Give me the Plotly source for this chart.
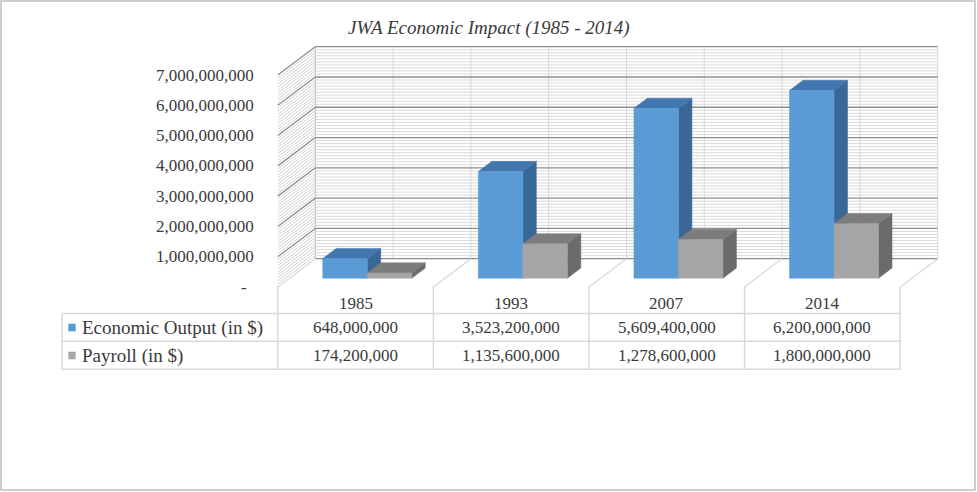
import plotly.graph_objects as go

years = ["1985", "1993", "2007", "2014"]
economic_output = [648000000, 3523200000, 5609400000, 6200000000]
payroll = [174200000, 1135600000, 1278600000, 1800000000]
series_names = ["Economic Output (in $)", "Payroll (in $)"]
y_ticks = [0, 1000000000, 2000000000, 3000000000, 4000000000, 5000000000, 6000000000, 7000000000]
y_tick_labels = ["-", "1,000,000,000", "2,000,000,000", "3,000,000,000", "4,000,000,000",
                 "5,000,000,000", "6,000,000,000", "7,000,000,000"]
minor_step = 100000000

W, H = 977, 492
FONT = "Liberation Serif"
TXT = "#3A3A3A"

# where the back wall sits on the page (pixels)
WALL_LEFT, WALL_RIGHT = 315.3, 937.7
WALL_BOTTOM, WALL_TOP = 258.7, 46.7
cat_px = (WALL_RIGHT - WALL_LEFT) / len(years)
val_px = (WALL_BOTTOM - WALL_TOP) / y_ticks[-1]

# depth vector from the back wall to the front edge of the floor
DEPTH_X = -37.5 / cat_px
DEPTH_Y = -28.3 / val_px
BAR_FRONT, BAR_BACK = 0.69, 0.33
BAR_W = 44.5 / cat_px

colors = {
    "blue": dict(front="#5B9BD5", top="#4276AE", side="#3A6896"),
    "gray": dict(front="#A5A5A5", top="#7C7C7C", side="#6B6B6B"),
}


def proj(x, v, d):
    return x + d * DEPTH_X, v + d * DEPTH_Y


def px_x(p):
    return p / W


def px_y(p):
    return 1 - p / H


fig = go.Figure()


def add_lines(segments, color, width):
    xs, ys = [], []
    for (a, b) in segments:
        xs += [a[0], b[0], None]
        ys += [a[1], b[1], None]
    fig.add_trace(go.Scatter(x=xs, y=ys, mode="lines", line=dict(color=color, width=width),
                             hoverinfo="skip", showlegend=False))


n = len(years)
minor_vals = [i * minor_step for i in range(int(y_ticks[-1] / minor_step) + 1)]
minor_vals = [v for v in minor_vals if v not in y_ticks]

# back wall + left wall gridlines
add_lines([((0, v), (n, v)) for v in minor_vals], "#DADADA", 1)
add_lines([(proj(0, v, 0), proj(0, v, 1)) for v in minor_vals], "#D2D2D2", 1)
add_lines([((i * 0.5, 0), (i * 0.5, y_ticks[-1])) for i in range(1, 2 * n + 1)], "#D9D9D9", 1)
add_lines([((0, 0), (0, y_ticks[-1]))], "#BFBFBF", 1)
add_lines([((0, v), (n, v)) for v in y_ticks], "#8C8C8C", 1.3)
add_lines([(proj(0, v, 0), proj(0, v, 1)) for v in y_ticks[1:]], "#8C8C8C", 1.3)
# floor dividers
add_lines([(proj(i, 0, 0), proj(i, 0, 1)) for i in range(n + 1)], "#D9D9D9", 1.2)


def add_poly(pts, color):
    fig.add_trace(go.Scatter(x=[p[0] for p in pts] + [pts[0][0]], y=[p[1] for p in pts] + [pts[0][1]],
                             mode="lines", fill="toself", fillcolor=color,
                             line=dict(color=color, width=0.5), hoverinfo="skip", showlegend=False))


def add_box(x0, x1, v, c):
    fl, fr = proj(x0, 0, BAR_FRONT), proj(x1, 0, BAR_FRONT)
    ftl, ftr = proj(x0, v, BAR_FRONT), proj(x1, v, BAR_FRONT)
    btl, btr, br = proj(x0, v, BAR_BACK), proj(x1, v, BAR_BACK), proj(x1, 0, BAR_BACK)
    add_poly([fr, br, btr, ftr], c["side"])
    add_poly([ftl, ftr, btr, btl], c["top"])
    add_poly([fl, fr, ftr, ftl], c["front"])


for i in range(n):
    c = i + 0.5
    add_box(c - BAR_W, c, economic_output[i], colors["blue"])
    add_box(c, c + BAR_W, payroll[i], colors["gray"])

annotations = []
# y tick labels at the front edge of the left wall
for v, t in zip(y_ticks, y_tick_labels):
    x_right = (256 - WALL_LEFT) / cat_px if t != "-" else (249 - WALL_LEFT) / cat_px
    annotations.append(dict(x=x_right, y=v + DEPTH_Y, xref="x", yref="y", text=t, showarrow=False,
                            xanchor="right", yanchor="middle", font=dict(family=FONT, size=17, color=TXT)))

# data table
ROW_TOP, ROW1, ROW2, ROW_BOT = 286, 313.5, 341.3, 369.3
TABLE_LEFT = 62
col_px = [WALL_LEFT + i * cat_px - 37.5 for i in range(n + 1)]
shapes = []
line_style = dict(color="#D9D9D9", width=1.5)
for yy in [ROW1, ROW2, ROW_BOT]:
    shapes.append(dict(type="line", xref="paper", yref="paper", x0=px_x(TABLE_LEFT), x1=px_x(col_px[-1]),
                       y0=px_y(yy), y1=px_y(yy), line=line_style))
shapes.append(dict(type="line", xref="paper", yref="paper", x0=px_x(TABLE_LEFT), x1=px_x(TABLE_LEFT),
                   y0=px_y(ROW1), y1=px_y(ROW_BOT), line=line_style))
for cx in col_px:
    shapes.append(dict(type="line", xref="paper", yref="paper", x0=px_x(cx), x1=px_x(cx),
                       y0=px_y(ROW_TOP), y1=px_y(ROW_BOT), line=line_style))

row_mid = [303.5, 327.5, 355.5]
for i, yr in enumerate(years):
    xc = (col_px[i] + col_px[i + 1]) / 2
    annotations.append(dict(x=px_x(xc), y=px_y(row_mid[0]), xref="paper", yref="paper", text=yr,
                            showarrow=False, xanchor="center", yanchor="middle",
                            font=dict(family=FONT, size=17, color=TXT)))
    for r, vals in enumerate([economic_output, payroll]):
        annotations.append(dict(x=px_x(xc), y=px_y(row_mid[r + 1]), xref="paper", yref="paper",
                                text=f"{vals[i]:,}", showarrow=False, xanchor="center", yanchor="middle",
                                font=dict(family=FONT, size=17, color=TXT)))

for r, (name, c) in enumerate(zip(series_names, ["blue", "gray"])):
    ym = row_mid[r + 1]
    shapes.append(dict(type="rect", xref="paper", yref="paper", x0=px_x(68.3), x1=px_x(75.7),
                       y0=px_y(ym + 3.8), y1=px_y(ym - 3.8), fillcolor=colors[c]["front"], line=dict(width=0)))
    annotations.append(dict(x=px_x(80), y=px_y(ym), xref="paper", yref="paper", text=name, showarrow=False,
                            xanchor="left", yanchor="middle", font=dict(family=FONT, size=19, color=TXT)))

# title
annotations.append(dict(x=px_x(488.5), y=px_y(28), xref="paper", yref="paper",
                        text="<i>JWA Economic Impact (1985 - 2014)</i>", showarrow=False,
                        xanchor="center", yanchor="middle",
                        font=dict(family=FONT, size=19, color=TXT)))

# chart border
shapes.append(dict(type="rect", xref="paper", yref="paper", x0=px_x(1), x1=px_x(975), y0=px_y(490), y1=px_y(1),
                   line=dict(color="#BFBFBF", width=1.5)))

fig.update_layout(
    width=W, height=H,
    margin=dict(l=0, r=0, t=0, b=0),
    paper_bgcolor="white", plot_bgcolor="white",
    xaxis=dict(visible=False, range=[-WALL_LEFT / cat_px, (W - WALL_LEFT) / cat_px], fixedrange=True),
    yaxis=dict(visible=False, range=[-(H - WALL_BOTTOM) / val_px, WALL_BOTTOM / val_px], fixedrange=True),
    showlegend=False,
    hovermode=False,
    annotations=annotations,
    shapes=shapes,
)

fig.write_html("out.html", config={"displayModeBar": False},
               post_script="document.body.style.margin='0';document.body.style.overflow='hidden';")
